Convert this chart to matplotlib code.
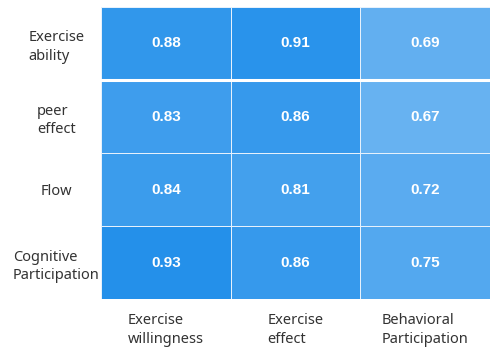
import matplotlib
matplotlib.use("Agg")
import matplotlib.pyplot as plt
import numpy as np
from matplotlib.colors import LinearSegmentedColormap

# datos
filas = ["Exercise\nability", "peer\neffect", "Flow", "Cognitive\nParticipation"]
columnas = ["Exercise\nwillingness", "Exercise\neffect", "Behavioral\nParticipation"]
valores = np.array([
    [0.88, 0.91, 0.69],
    [0.83, 0.86, 0.67],
    [0.84, 0.81, 0.72],
    [0.93, 0.86, 0.75],
])

plt.rcParams["font.family"] = ["Noto Sans", "DejaVu Sans"]

cmap = LinearSegmentedColormap.from_list("azul", ["#67b2f1", "#2490ea"])

fig = plt.figure(figsize=(4.9, 3.47), dpi=100)
ax = fig.add_axes([0.206, 0.138, 0.794, 0.842])
ax.pcolormesh(valores, cmap=cmap, vmin=0.67, vmax=0.93, edgecolors="#e6f1fc", linewidth=0.6)
ax.axhline(1, color="white", lw=2.2)
ax.invert_yaxis()

for i in range(valores.shape[0]):
    for j in range(valores.shape[1]):
        ax.text(j + 0.5, i + 0.5, f"{valores[i, j]:.2f}", ha="center", va="center",
                color="white", fontsize=11, fontweight="bold", family="Liberation Sans")

ax.set_xticks(np.arange(len(columnas)) + 0.5)
ax.set_xticklabels(columnas, fontsize=10.5, color="#333333", multialignment="left",
                   va="top", linespacing=1.35)
ax.set_yticks(np.arange(len(filas)) + 0.5)
ax.set_yticklabels(filas, fontsize=10.5, color="#333333", multialignment="left",
                   ha="center", linespacing=1.35)
ax.tick_params(axis="y", length=0, pad=32)
ax.tick_params(axis="x", length=0, pad=10)
for s in ax.spines.values():
    s.set_visible(False)

plt.savefig("out.png", dpi=100)
